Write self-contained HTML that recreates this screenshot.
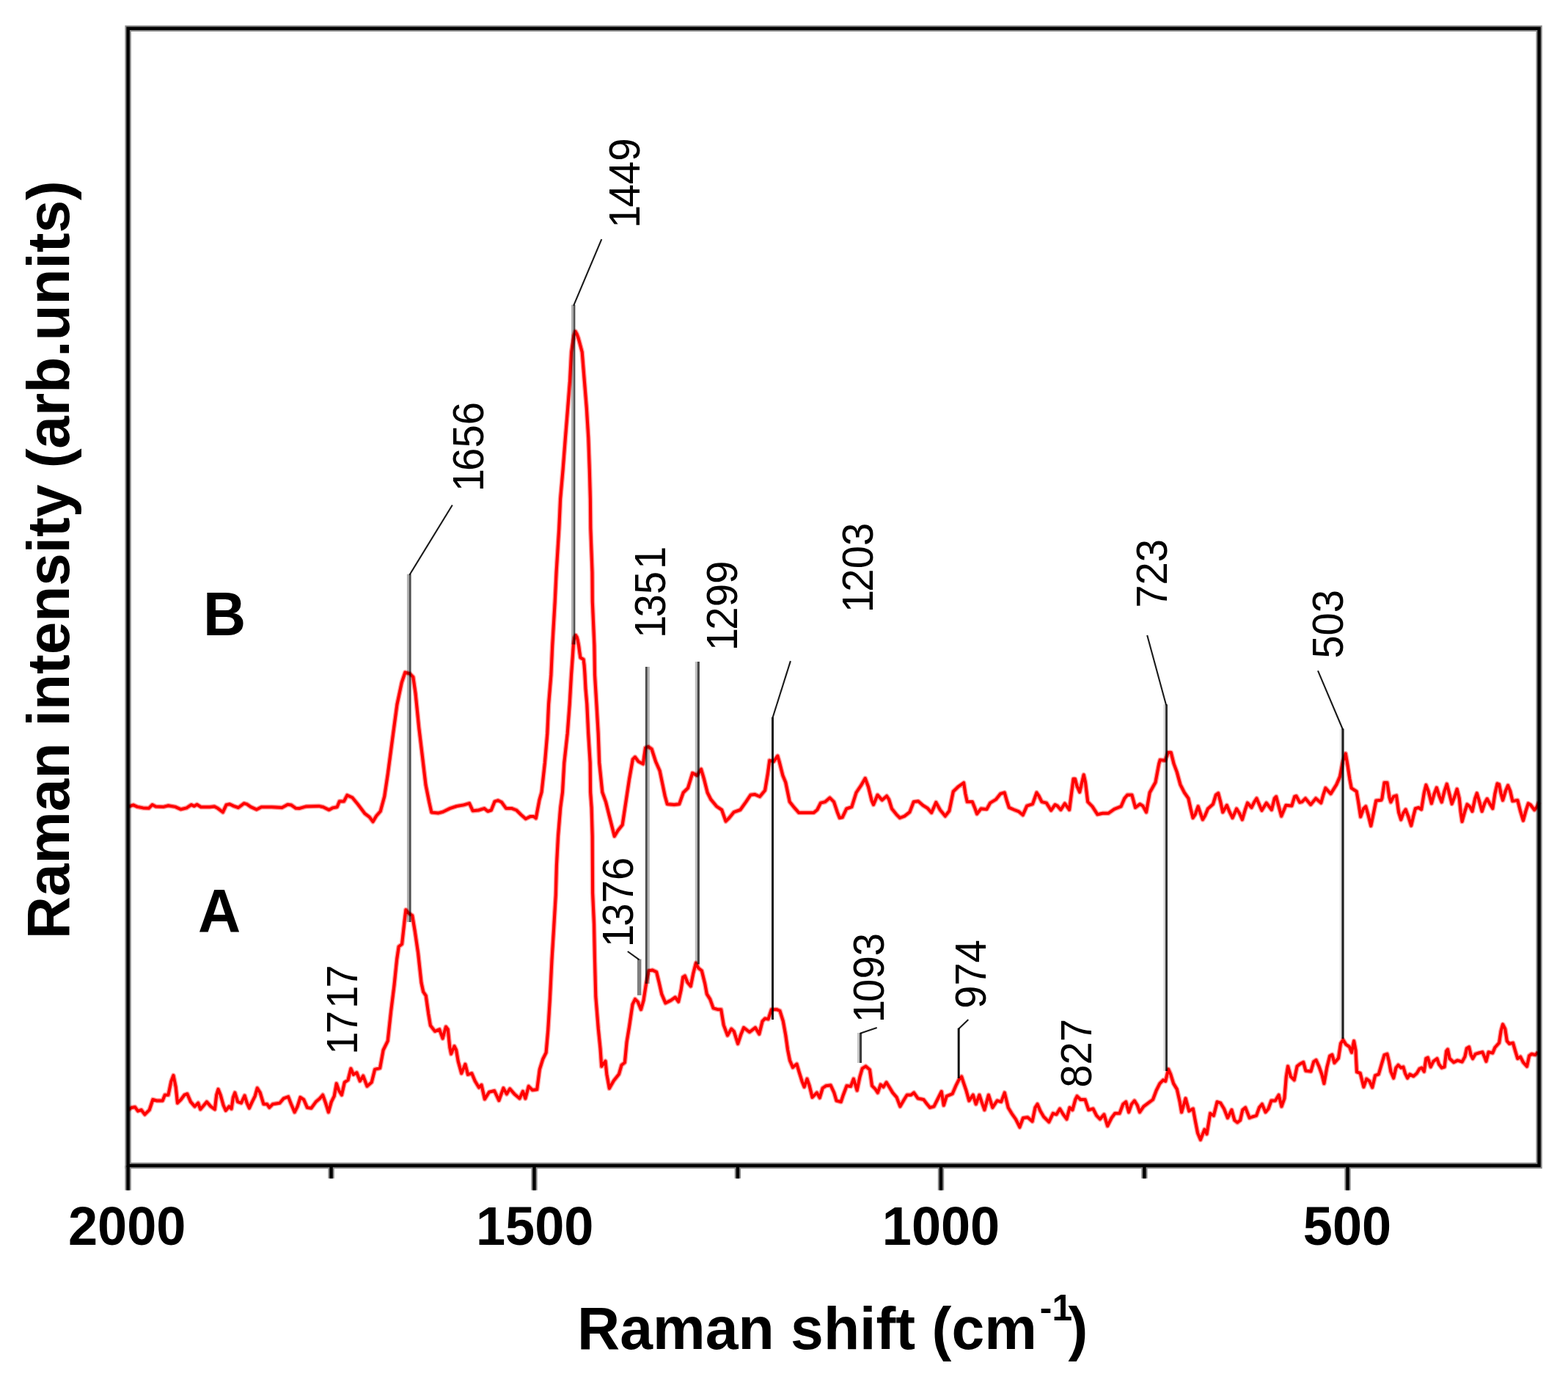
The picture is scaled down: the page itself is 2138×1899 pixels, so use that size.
<!DOCTYPE html>
<html lang="en"><head><meta charset="utf-8"><title>Raman spectra</title>
<style>html,body{margin:0;padding:0;background:#fff}svg{display:block}text{font-family:"Liberation Sans",Arial,sans-serif;fill:#000}.b{font-weight:bold}.tk{font-size:75px;text-anchor:middle}.ti{font-size:81px}.pk{font-size:59.4px}.lab{font-size:84px}.sp{fill:none;stroke:#ff0000;stroke-linejoin:round;stroke-linecap:butt}.ld{fill:none;stroke:#000;stroke-linejoin:miter}.ax{fill:none;stroke:#000}</style></head><body>
<svg xmlns="http://www.w3.org/2000/svg" xmlns:xlink="http://www.w3.org/1999/xlink" width="2138" height="1899" viewBox="0 0 2138 1899">
<defs>
<g id="spec">
<polyline points="174.7,1099.9 181.7,1097.4 187.2,1099.9 195.0,1101.4 202.9,1101.8 207.6,1097.1 212.3,1099.6 223.2,1099.9 229.5,1098.3 238.9,1099.9 246.7,1103.3 254.5,1101.4 260.8,1097.1 264.7,1098.9 268.6,1096.8 274.1,1100.2 285.9,1100.2 292.1,1099.4 296.8,1101.8 303.9,1107.2 308.6,1097.1 313.2,1096.3 318.7,1098.9 325.0,1101.0 332.8,1095.2 336.7,1096.3 342.2,1100.2 350.0,1103.6 356.3,1100.2 370.4,1100.2 384.5,1101.0 392.3,1096.8 397.0,1097.4 403.3,1101.8 408.0,1102.1 417.4,1099.4 434.6,1098.9 440.8,1100.2 448.7,1104.1 453.4,1101.4 459.6,1100.2 462.8,1092.4 469.0,1092.4 473.3,1084.1 480.4,1087.3 488.2,1096.7 497.6,1109.2 503.8,1113.9 508.5,1120.1 513.2,1112.3 518.7,1106.0 524.2,1085.7 528.9,1054.4 535.1,1007.4 541.4,960.5 547.7,930.7 552.4,916.6 558.6,918.2 563.3,922.9 566.5,944.8 571.2,991.8 575.9,1030.9 580.5,1070.0 585.2,1093.5 588.4,1107.6 597.8,1108.4 604.0,1106.8 613.4,1102.1 622.8,1099.0 632.2,1097.4 640.0,1095.1 644.7,1105.3 652.6,1104.5 660.4,1102.1 665.1,1106.0 669.8,1104.5 674.5,1092.7 679.2,1091.2 683.9,1093.5 690.1,1102.1 698.0,1102.1 704.2,1104.5 710.5,1110.7 716.8,1116.2 723.0,1113.1 727.7,1113.1 730.8,1115.4 735.5,1090.4 738.5,1080.0 742.9,1040.0 746.3,1000.0 748.1,960.0 751.4,920.0 753.2,880.0 756.7,820.0 758.6,780.0 762.3,720.0 764.1,680.0 767.6,640.0 770.9,597.0 774.2,556.0 777.0,520.0 779.1,480.0 780.8,468.0 782.4,457.5 784.5,451.8 786.6,455.5 788.6,461.0 790.8,469.0 793.7,480.0 796.9,520.0 799.8,556.0 802.3,597.0 803.8,640.0 804.9,680.0 805.3,720.0 807.5,780.0 807.8,820.0 810.4,880.0 811.0,920.0 813.4,960.0 815.7,1000.0 817.2,1040.0 821.3,1080.0 826.0,1093.1 829.9,1108.7 837.8,1140.0 842.5,1132.2 848.7,1124.4 853.4,1093.1 858.1,1061.8 862.8,1035.1 865.9,1032.0 870.6,1038.3 876.9,1041.4 880.0,1019.5 884.0,1017.9 888.6,1021.1 894.1,1038.3 899.6,1050.8 903.5,1069.6 906.7,1085.2 909.8,1096.2 919.2,1097.0 926.2,1096.2 931.7,1080.5 938.0,1074.3 944.2,1053.9 950.5,1057.1 956.0,1048.5 959.9,1061.8 964.6,1080.5 969.3,1089.9 977.1,1099.3 984.1,1104.0 989.6,1119.7 994.3,1115.0 1000.6,1107.2 1009.4,1104.0 1017.2,1093.1 1023.5,1083.7 1029.0,1082.9 1036.0,1086.0 1043.1,1077.4 1047.0,1053.9 1049.3,1036.7 1054.8,1038.3 1060.3,1030.5 1062.6,1038.3 1067.3,1057.1 1071.2,1066.5 1076.7,1093.1 1083.0,1100.9 1089.2,1107.9 1100.2,1107.9 1109.6,1107.9 1114.3,1104.0 1119.0,1094.6 1125.2,1093.1 1131.5,1087.6 1137.0,1093.1 1141.7,1107.2 1144.8,1115.0 1148.7,1114.2 1154.2,1102.5 1161.3,1100.1 1167.5,1080.5 1173.8,1071.2 1179.7,1061.0 1184.0,1072.7 1188.6,1091.5 1191.0,1097.0 1196.5,1083.7 1202.7,1090.7 1209.0,1085.2 1212.1,1089.9 1216.0,1102.5 1222.3,1110.3 1227.0,1115.0 1233.3,1112.6 1240.3,1107.2 1245.8,1093.1 1252.1,1092.3 1258.3,1097.8 1264.6,1101.7 1270.1,1107.9 1276.3,1093.9 1281.8,1104.0 1288.8,1112.6 1294.3,1105.6 1299.8,1079.0 1306.3,1072.7 1314.1,1067.2 1316.4,1082.1 1318.8,1093.1 1325.8,1093.1 1329.0,1100.9 1332.1,1109.5 1337.6,1102.5 1345.4,1103.2 1350.1,1094.6 1357.9,1089.9 1364.2,1082.1 1369.7,1080.5 1372.8,1091.5 1375.9,1100.9 1383.0,1104.0 1389.2,1106.4 1394.7,1111.1 1400.2,1098.6 1408.0,1096.2 1413.5,1080.5 1416.6,1085.2 1420.5,1093.1 1426.8,1094.6 1433.1,1104.8 1438.6,1097.0 1441.7,1098.6 1446.4,1104.0 1451.9,1095.4 1458.1,1104.0 1460.5,1085.2 1463.6,1061.8 1465.9,1061.8 1468.3,1071.2 1472.2,1079.8 1475.3,1066.5 1477.7,1056.3 1480.0,1066.5 1483.2,1093.1 1489.4,1099.3 1496.5,1110.3 1503.5,1108.7 1511.4,1108.7 1519.2,1103.2 1528.6,1099.3 1533.3,1088.4 1537.2,1083.7 1543.4,1083.7 1548.1,1100.9 1554.4,1096.2 1558.3,1098.6 1563.0,1107.2 1567.7,1080.5 1575.5,1066.5 1580.2,1041.4 1581.8,1035.9 1588.8,1036.7 1592.8,1025.8 1596.7,1025.8 1600.6,1041.4 1604.7,1052.4 1609.4,1069.6 1614.9,1080.5 1620.4,1088.4 1623.5,1102.5 1626.6,1115.0 1629.7,1110.3 1633.7,1099.3 1636.8,1108.7 1639.9,1117.3 1643.1,1111.9 1647.0,1102.5 1654.0,1096.2 1657.9,1083.7 1661.1,1081.3 1664.2,1093.1 1667.3,1107.2 1672.8,1097.8 1676.7,1107.2 1680.6,1115.0 1686.1,1102.5 1690.0,1108.7 1693.9,1117.3 1697.8,1104.0 1701.0,1094.6 1706.5,1100.9 1710.4,1093.1 1713.5,1088.4 1717.4,1097.8 1720.5,1104.8 1726.8,1094.6 1733.9,1104.0 1737.8,1088.4 1740.1,1086.0 1743.2,1097.8 1747.2,1112.6 1753.4,1097.8 1761.3,1098.6 1765.2,1086.0 1767.5,1085.2 1772.2,1093.9 1775.3,1093.1 1780.0,1088.4 1787.1,1097.0 1794.1,1088.4 1801.2,1094.6 1804.3,1083.7 1807.4,1074.3 1814.5,1082.1 1822.3,1069.6 1827.0,1058.6 1830.9,1038.3 1834.8,1027.3 1837.2,1041.4 1840.3,1061.8 1842.7,1074.3 1849.7,1079.0 1852.1,1093.1 1855.2,1113.4 1859.1,1102.5 1862.2,1099.3 1865.4,1110.3 1869.3,1125.9 1873.2,1107.2 1876.3,1091.5 1883.4,1090.7 1884.4,1088.4 1887.6,1066.9 1891.4,1066.9 1894.5,1087.1 1896.4,1093.4 1900.2,1085.8 1904.0,1084.6 1907.1,1107.3 1910.3,1117.4 1913.4,1108.6 1916.6,1103.5 1920.4,1113.6 1924.2,1125.6 1927.3,1112.3 1929.9,1102.2 1934.3,1101.0 1938.1,1103.5 1941.8,1080.8 1944.4,1070.1 1947.5,1078.3 1951.9,1095.3 1955.7,1082.0 1958.9,1073.8 1962.7,1085.8 1965.8,1093.4 1969.6,1078.3 1972.8,1068.8 1975.9,1080.8 1979.7,1095.9 1983.5,1085.8 1986.7,1075.7 1989.8,1088.4 1991.7,1107.3 1993.6,1119.9 1997.4,1106.0 2000.5,1096.6 2004.3,1099.7 2007.5,1106.0 2011.3,1088.4 2013.8,1081.4 2017.0,1092.1 2020.7,1106.0 2024.5,1094.7 2027.7,1089.0 2031.5,1095.9 2035.3,1102.2 2038.4,1082.0 2041.6,1068.2 2044.1,1069.4 2046.6,1082.0 2049.1,1090.9 2052.9,1078.3 2056.1,1070.7 2059.2,1078.3 2062.4,1092.1 2069.3,1090.9 2073.1,1106.0 2076.9,1118.6 2080.7,1104.8 2083.8,1095.3 2087.0,1097.2 2092.1,1104.1 2095.8,1099.7 2098.4,1093.4"/>
<polyline points="174.7,1513.1 179.4,1509.9 184.1,1509.2 188.0,1514.6 192.7,1513.1 197.4,1519.3 203.7,1513.1 208.4,1499.0 213.8,1500.5 221.7,1500.5 224.8,1492.7 229.5,1492.7 233.4,1473.9 236.5,1466.1 239.7,1481.8 242.0,1503.7 246.7,1499.0 251.4,1492.7 255.3,1491.2 260.0,1502.1 265.5,1508.4 270.2,1503.7 273.3,1512.3 278.0,1506.8 281.9,1502.1 287.4,1508.4 292.9,1512.3 295.2,1492.7 297.6,1484.9 300.7,1492.7 304.6,1506.8 307.8,1513.9 312.5,1508.4 315.6,1511.5 317.9,1495.9 320.3,1489.6 324.2,1502.1 328.9,1503.7 333.6,1493.5 336.7,1503.7 339.9,1510.7 343.8,1502.1 347.7,1494.3 350.8,1483.3 354.7,1489.6 359.4,1505.2 364.1,1505.2 367.3,1509.9 372.0,1505.2 381.4,1503.7 386.8,1497.4 393.1,1495.1 397.0,1505.2 401.7,1516.2 405.6,1508.4 409.5,1495.9 414.2,1499.0 418.9,1509.9 424.4,1510.7 430.7,1502.1 436.1,1497.4 440.1,1492.7 444.0,1503.7 447.9,1516.2 451.8,1502.1 455.7,1494.3 458.8,1477.1 462.0,1486.5 465.9,1492.7 469.8,1475.5 474.5,1472.4 478.4,1456.7 482.0,1464.9 486.4,1462.3 490.8,1473.7 495.2,1466.7 500.5,1480.8 506.7,1475.5 511.1,1457.9 518.1,1456.1 522.6,1431.5 528.7,1419.1 533.1,1378.6 537.5,1343.3 541.1,1308.1 543.7,1290.5 548.1,1287.0 551.6,1255.2 553.4,1240.3 556.9,1244.7 562.2,1248.2 565.7,1269.3 570.1,1299.3 574.5,1339.8 577.2,1352.2 580.7,1357.4 584.2,1382.1 586.9,1398.0 593.0,1405.9 599.2,1403.3 603.6,1415.6 608.0,1399.7 610.7,1403.3 613.3,1427.9 615.1,1436.7 619.5,1426.2 622.1,1431.5 624.8,1447.3 629.2,1463.2 634.4,1450.8 638.0,1464.9 643.3,1463.2 647.7,1473.7 653.0,1482.6 656.5,1479.0 660.9,1498.4 667.0,1488.7 674.1,1487.0 680.3,1500.2 686.4,1483.4 690.8,1491.4 695.2,1484.3 701.4,1491.4 708.5,1497.5 712.9,1487.8 716.4,1497.5 720.8,1480.8 726.1,1486.1 732.2,1485.2 735.8,1457.9 740.2,1443.8 744.6,1435.0 747.2,1405.0 749.9,1361.0 752.5,1308.1 755.2,1264.1 757.8,1220.0 758.9,1180.0 761.0,1140.0 764.2,1101.0 767.0,1080.0 769.3,1040.0 773.7,1000.0 776.7,960.0 779.0,920.0 780.8,895.0 781.9,878.0 783.4,869.0 785.0,866.0 786.6,868.5 787.8,873.0 789.1,880.0 790.2,888.5 791.4,896.5 795.6,899.0 796.6,907.0 797.4,918.0 798.5,939.0 800.3,960.0 802.2,1000.0 804.7,1040.0 805.1,1080.0 806.6,1101.0 807.7,1140.0 807.9,1180.0 808.1,1217.6 810.0,1259.9 810.9,1305.7 812.3,1358.6 815.8,1402.6 818.5,1429.1 820.2,1453.7 825.5,1446.7 827.3,1464.3 830.8,1483.7 837.0,1473.1 844.0,1464.3 847.5,1452.0 851.9,1448.5 854.6,1420.3 858.1,1399.1 862.5,1369.2 866.0,1362.1 869.6,1365.6 874.0,1376.2 877.5,1363.9 881.0,1341.0 884.5,1323.3 889.8,1322.5 895.1,1325.1 898.6,1339.2 902.2,1355.1 907.4,1367.4 914.5,1363.9 920.7,1359.5 925.1,1365.6 928.6,1349.8 931.2,1332.2 933.9,1330.4 937.4,1339.2 941.8,1344.5 945.3,1326.9 948.9,1312.8 952.4,1319.8 956.8,1323.3 961.2,1341.0 963.8,1355.1 968.2,1362.1 972.6,1374.4 978.8,1376.2 983.2,1376.2 986.7,1397.4 992.0,1411.5 997.3,1402.6 1000.8,1406.2 1006.1,1422.9 1010.5,1409.7 1014.1,1400.9 1022.0,1407.0 1029.9,1400.9 1035.2,1409.7 1039.6,1392.1 1043.1,1388.5 1047.5,1389.4 1051.9,1376.2 1059.0,1376.2 1063.4,1378.0 1067.8,1392.1 1071.3,1411.5 1074.0,1430.8 1077.0,1445.8 1081.0,1455.1 1086.4,1450.5 1089.6,1461.4 1093.5,1473.9 1096.6,1481.8 1100.5,1470.8 1103.7,1480.2 1107.6,1495.9 1113.8,1489.6 1117.7,1496.6 1121.7,1483.3 1126.4,1480.2 1132.6,1479.4 1137.3,1489.6 1140.5,1500.5 1146.7,1502.1 1149.8,1492.7 1154.5,1480.2 1160.0,1481.0 1163.9,1470.8 1168.6,1486.5 1172.5,1467.7 1175.7,1456.7 1180.4,1453.6 1185.9,1458.3 1189.0,1480.2 1193.7,1484.9 1196.8,1489.6 1200.7,1478.6 1204.6,1481.8 1208.6,1475.5 1212.5,1481.8 1217.2,1489.6 1222.6,1495.9 1227.3,1508.4 1232.8,1499.0 1236.7,1492.7 1242.2,1492.7 1246.1,1489.6 1251.6,1497.4 1259.4,1499.0 1264.1,1505.2 1268.0,1509.9 1273.5,1508.4 1278.2,1499.0 1283.7,1488.0 1286.8,1506.8 1290.7,1494.3 1298.6,1491.2 1303.3,1480.2 1307.2,1472.4 1311.1,1467.7 1314.2,1477.1 1317.4,1486.5 1321.3,1500.5 1326.8,1492.7 1330.7,1505.2 1335.4,1492.7 1338.5,1502.1 1342.4,1513.1 1347.9,1492.7 1353.4,1509.9 1359.6,1500.5 1365.1,1502.1 1369.8,1489.6 1374.7,1509.9 1379.4,1517.8 1384.9,1525.6 1390.4,1536.6 1395.0,1524.0 1401.3,1523.2 1407.6,1528.7 1411.5,1509.9 1414.6,1505.2 1418.5,1514.6 1423.2,1522.5 1430.3,1529.5 1435.8,1517.8 1440.5,1519.3 1445.1,1511.5 1449.8,1519.3 1454.5,1525.6 1458.5,1509.9 1462.4,1513.1 1466.3,1499.0 1468.6,1494.3 1473.3,1499.0 1479.6,1499.0 1484.3,1513.1 1490.5,1511.5 1495.2,1520.9 1499.9,1525.6 1505.4,1519.3 1510.1,1535.0 1515.6,1524.0 1520.3,1517.8 1526.6,1517.8 1531.3,1505.2 1535.2,1502.1 1539.1,1516.2 1543.0,1505.2 1546.9,1500.5 1550.8,1506.8 1554.0,1516.2 1559.4,1508.4 1565.7,1503.7 1572.0,1499.0 1576.7,1486.5 1581.4,1477.1 1586.0,1472.4 1589.2,1473.9 1593.1,1457.5 1596.2,1464.5 1600.1,1477.1 1604.8,1484.9 1608.7,1502.1 1611.1,1516.2 1616.6,1497.4 1621.3,1514.6 1626.8,1511.5 1629.9,1528.7 1633.0,1544.4 1636.9,1553.8 1642.4,1539.7 1645.5,1545.9 1650.2,1517.8 1654.9,1520.9 1659.6,1502.1 1664.3,1503.7 1669.0,1511.5 1673.9,1524.0 1679.4,1513.1 1683.3,1527.2 1687.2,1530.3 1691.1,1527.2 1694.3,1513.1 1698.2,1509.9 1703.7,1524.0 1707.6,1522.5 1713.1,1520.9 1717.0,1509.9 1720.9,1505.2 1725.6,1516.2 1729.5,1511.5 1733.4,1500.5 1738.9,1500.5 1743.6,1492.7 1747.5,1508.4 1751.4,1497.4 1753.8,1467.7 1756.1,1453.6 1760.0,1467.7 1764.7,1472.4 1768.6,1453.6 1772.5,1450.5 1777.2,1448.1 1780.4,1459.8 1787.4,1460.6 1791.3,1447.3 1794.5,1445.0 1798.4,1453.6 1802.3,1464.5 1805.4,1477.1 1809.3,1455.1 1813.2,1439.5 1816.4,1437.9 1819.5,1448.9 1825.0,1442.6 1828.1,1422.3 1831.3,1417.6 1835.2,1423.8 1839.9,1427.0 1843.0,1434.8 1846.1,1419.1 1848.5,1431.7 1850.0,1461.4 1854.7,1463.0 1859.4,1481.8 1863.3,1470.8 1867.3,1473.9 1871.2,1482.5 1875.1,1466.1 1879.8,1464.5 1883.8,1450.7 1887.6,1438.1 1891.4,1436.8 1893.9,1446.9 1896.4,1460.8 1900.2,1469.6 1903.4,1455.7 1906.5,1451.9 1910.3,1455.7 1913.4,1454.5 1916.0,1463.3 1919.1,1469.6 1922.3,1464.6 1927.3,1467.1 1931.8,1463.3 1935.5,1457.0 1938.7,1455.7 1941.8,1460.8 1944.4,1443.1 1946.9,1441.8 1950.7,1454.5 1954.5,1446.9 1959.5,1443.1 1962.0,1450.7 1965.8,1455.7 1969.6,1454.5 1972.1,1433.0 1974.0,1430.5 1976.6,1443.1 1982.2,1448.2 1987.3,1445.6 1993.6,1447.5 1997.4,1440.6 1999.9,1429.2 2003.1,1427.3 2005.6,1438.1 2008.1,1443.1 2011.9,1436.8 2016.3,1435.5 2021.4,1434.3 2024.5,1441.8 2026.4,1446.9 2029.6,1434.3 2035.3,1435.5 2038.4,1428.0 2044.1,1421.7 2046.6,1405.2 2049.1,1396.4 2052.3,1402.7 2054.8,1419.1 2058.0,1422.9 2063.0,1421.7 2066.2,1433.0 2069.3,1443.1 2073.1,1440.6 2076.9,1448.2 2082.0,1453.8 2085.1,1439.3 2088.3,1436.8 2093.3,1438.1 2097.1,1434.3"/>
</g>
<g id="axes">
<rect x="174.6" y="38.8" width="1924" height="1550.2"/>
<line x1="174.6" y1="1589" x2="174.6" y2="1622.6"/>
<line x1="728.5" y1="1589" x2="728.5" y2="1622.6"/>
<line x1="1283" y1="1589" x2="1283" y2="1622.6"/>
<line x1="1837.5" y1="1589" x2="1837.5" y2="1622.6"/>
<line x1="451.6" y1="1589" x2="451.6" y2="1606.5"/>
<line x1="1005.9" y1="1589" x2="1005.9" y2="1606.5"/>
<line x1="1560.4" y1="1589" x2="1560.4" y2="1606.5"/>
</g>
</defs>
<rect x="0" y="0" width="2138" height="1899" fill="#fff"/>
<use href="#spec" class="sp" stroke-width="6.8" opacity="0.38"/>
<use href="#spec" class="sp" stroke-width="4" opacity="1"/>
<g fill="#000">
<rect x="779.1" y="415.6" width="2.9" height="462.9" fill-opacity="0.33"/>
<rect x="782" y="415.6" width="2.4" height="462.9" fill-opacity="0.67"/>
<rect x="554.9" y="782.7" width="2.8" height="474.3" fill-opacity="0.3"/>
<rect x="557.7" y="782.7" width="2.9" height="474.3" fill-opacity="0.69"/>
<rect x="879.9" y="909" width="2.8" height="432" fill-opacity="0.71"/>
<rect x="882.7" y="909" width="3.1" height="432" fill-opacity="0.3"/>
<rect x="947.8" y="902" width="3" height="412.5" fill-opacity="0.25"/>
<rect x="950.8" y="902" width="3.1" height="412.5" fill-opacity="0.73"/>
<rect x="1052" y="977.8" width="3" height="412.2" fill-opacity="0.92"/>
<rect x="1586.6" y="960.3" width="2.5" height="499.7" fill-opacity="0.18"/>
<rect x="1589.1" y="960.3" width="2.9" height="499.7" fill-opacity="0.82"/>
<rect x="1826.8" y="993.5" width="2.6" height="422.5" fill-opacity="0.1"/>
<rect x="1829.4" y="993.5" width="3.2" height="422.5" fill-opacity="0.88"/>
<rect x="868.9" y="1307.5" width="5.5" height="49.3" fill-opacity="0.5"/>
<rect x="1168.9" y="1408" width="3" height="41" fill-opacity="0.22"/>
<rect x="1171.9" y="1408" width="3.2" height="41" fill-opacity="0.76"/>
<rect x="1305.7" y="1401.7" width="3" height="68.3" fill-opacity="0.93"/>
</g>
<g class="ld" stroke-width="2.1" stroke-opacity="0.9" stroke-linecap="butt">
<line x1="782.1" y1="416.6" x2="820.3" y2="326.1"/>
<line x1="558.4" y1="783.7" x2="616.8" y2="688.5"/>
<line x1="1053.4" y1="978.8" x2="1077.9" y2="901.1"/>
<line x1="1590.1" y1="961.3" x2="1564.2" y2="866"/>
<line x1="1831" y1="994.5" x2="1797" y2="914.3"/>
<line x1="871.6" y1="1308.3" x2="855.8" y2="1297"/>
<line x1="1172.9" y1="1408.8" x2="1195.7" y2="1400.9"/>
<line x1="1307.2" y1="1402.5" x2="1320.3" y2="1390"/>
</g>
<use href="#axes" class="ax" stroke-width="8.4" opacity="0.45"/>
<use href="#axes" class="ax" stroke-width="4.4" opacity="1"/>
<text class="b tk" transform="translate(173.2 1696.8) scale(0.962 1)">2000</text>
<text class="b tk" transform="translate(729.2 1696.8) scale(0.962 1)">1500</text>
<text class="b tk" transform="translate(1283 1696.8) scale(0.962 1)">1000</text>
<text class="b tk" transform="translate(1837 1696.8) scale(0.962 1)">500</text>
<text class="b ti" transform="translate(787 1839.1) scale(0.995 1)">Raman shift (cm<tspan dx="4" dy="-39" font-size="50">-1</tspan><tspan dx="-5.5" dy="39">)</tspan></text>
<text class="b" font-size="81.5" transform="translate(93.9 1280) rotate(-90) scale(0.984 1)">Raman intensity (arb.units)</text>
<text class="b lab" transform="translate(277 865.6) scale(0.96 1)">B</text>
<text class="b lab" transform="translate(270 1271.3) scale(0.96 1)">A</text>
<text class="pk" dx="3 -3 0 0" transform="translate(871.5 313.8) rotate(-90) scale(0.948 1)">1449</text>
<text class="pk" dx="3 -3 0 0" transform="translate(659 673.2) rotate(-90) scale(0.948 1)">1656</text>
<text class="pk" dx="3 -3 0 3" transform="translate(907 872.8) rotate(-90) scale(0.948 1)">1351</text>
<text class="pk" dx="3 -3 0 0" transform="translate(1004.8 890) rotate(-90) scale(0.948 1)">1299</text>
<text class="pk" dx="3 -3 0 0" transform="translate(1190.3 838) rotate(-90) scale(0.948 1)">1203</text>
<text class="pk" transform="translate(1590.8 828.8) rotate(-90) scale(0.948 1)">723</text>
<text class="pk" transform="translate(1831.2 897.8) rotate(-90) scale(0.948 1)">503</text>
<text class="pk" dx="3 -3 3 -3" transform="translate(487.1 1440.6) rotate(-90) scale(0.948 1)">1717</text>
<text class="pk" dx="3 -3 0 0" transform="translate(863.3 1294) rotate(-90) scale(0.948 1)">1376</text>
<text class="pk" dx="3 -3 0 0" transform="translate(1205 1397.2) rotate(-90) scale(0.948 1)">1093</text>
<text class="pk" transform="translate(1344.4 1375) rotate(-90) scale(0.948 1)">974</text>
<text class="pk" transform="translate(1488.4 1482.8) rotate(-90) scale(0.948 1)">827</text>
</svg></body></html>
